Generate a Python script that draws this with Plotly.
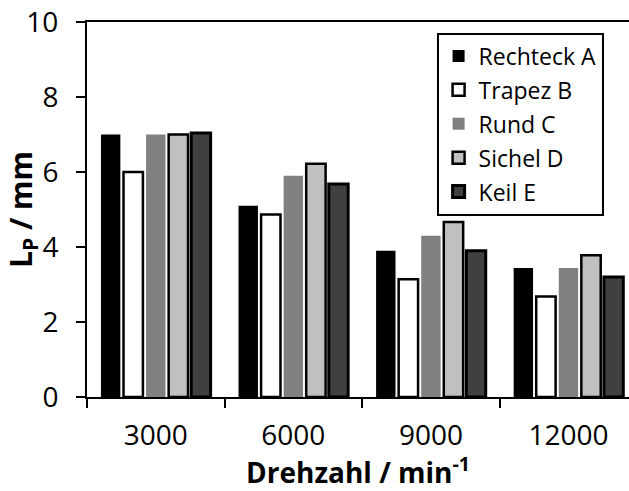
import plotly.graph_objects as go

# Rotational speed categories (min^-1)
drehzahl = ["3000", "6000", "9000", "12000"]

# L_P in mm for each blade shape
rechteck_a = [7.0, 5.1, 3.9, 3.44]
trapez_b = [6.0, 4.87, 3.14, 2.68]
rund_c = [7.0, 5.9, 4.3, 3.44]
sichel_d = [7.0, 6.22, 4.67, 3.78]
keil_e = [7.04, 5.68, 3.9, 3.2]

series = [
    ("Rechteck A", rechteck_a, "#000000", "#000000", 0),
    ("Trapez B", trapez_b, "#ffffff", "#000000", 2.5),
    ("Rund C", rund_c, "#808080", "#808080", 0),
    ("Sichel D", sichel_d, "#c0c0c0", "#000000", 2.5),
    ("Keil E", keil_e, "#404040", "#000000", 3),
]

FONT = "Open Sans"

fig = go.Figure()
for name, vals, fill, edge, lw in series:
    fig.add_trace(go.Bar(
        x=drehzahl, y=vals, name=name, legendgroup=name,
        marker=dict(color=fill, line=dict(color=edge, width=lw)),
    ))

fig.update_layout(
    width=629, height=491,
    margin=dict(l=87, r=0, t=22, b=94),
    paper_bgcolor="white", plot_bgcolor="white",
    barmode="group", bargap=0.18, bargroupgap=0.14,
    font=dict(family=FONT, color="#000000", size=28),
    legend=dict(
        x=0.645, y=0.972, xanchor="left", yanchor="top",
        bgcolor="white", bordercolor="#000000", borderwidth=2,
        font=dict(family=FONT, size=23, color="#000000"),
        tracegroupgap=1, itemwidth=30,
    ),
    showlegend=True,
)

fig.update_xaxes(
    type="category", range=[-0.5, 3.44],
    showline=True, linecolor="#000000", linewidth=2, mirror=True,
    ticks="outside", tickson="boundaries", ticklen=9, tickwidth=2, tickcolor="#000000",
    showgrid=False, zeroline=False, ticklabelstandoff=12,
    tickfont=dict(family=FONT, size=28),
    title=dict(text="<b>Drehzahl / min<sup>-1</sup></b>", font=dict(family=FONT, size=28), standoff=0),
)
fig.update_yaxes(
    range=[0, 10], dtick=2,
    showline=True, linecolor="#000000", linewidth=2, mirror=False,
    ticks="outside", ticklen=9, tickwidth=2, tickcolor="#000000",
    showgrid=False, zeroline=False, ticklabelstandoff=12,
    tickfont=dict(family=FONT, size=28),
    title=dict(text="<b>L<sub>P</sub> / mm</b>", font=dict(family=FONT, size=30), standoff=4),
)

fig.write_html("out.html")
